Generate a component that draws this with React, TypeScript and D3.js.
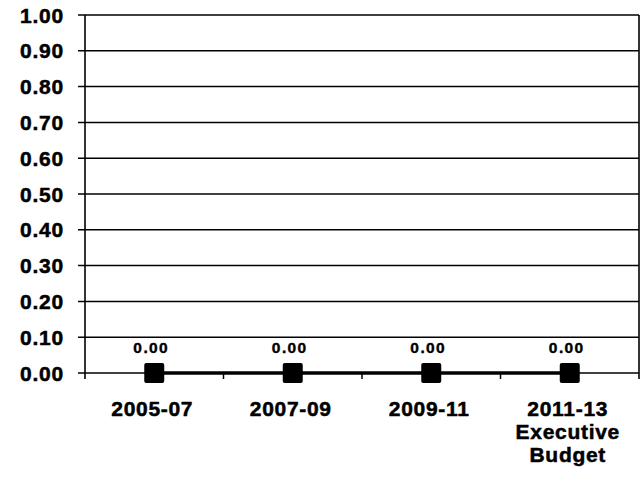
import React, { useRef, useEffect } from 'react'
import { select, scaleBand, scaleLinear, line } from 'd3'

const categories = [
    ['2005-07'],
    ['2007-09'],
    ['2009-11'],
    ['2011-13', 'Executive', 'Budget'],
]
const values = [0.0, 0.0, 0.0, 0.0]
const yTicks = [0, 0.1, 0.2, 0.3, 0.4, 0.5, 0.6, 0.7, 0.8, 0.9, 1.0]

const W = 644
const H = 481
const left = 85
const right = 639
const top = 15
const bottom = 373
const font = 'Arial, "Liberation Sans", Helvetica, sans-serif'

const App = () => {
    const ref = useRef<any>()

    useEffect(() => {
        const svg = select(ref.current)
        svg.selectAll('*').remove()

        const x = scaleBand()
            .domain(categories.map((c, i) => String(i)))
            .range([left, right])
        const y = scaleLinear().domain([0, 1]).range([bottom, top])
        const cx = (i: number) => x(String(i)) + x.bandwidth() / 2

        // gridlines + y ticks
        svg.selectAll('.grid')
            .data(yTicks)
            .join('line')
            .attr('class', 'grid')
            .attr('x1', left - 7)
            .attr('x2', right)
            .attr('y1', d => y(d))
            .attr('y2', d => y(d))
            .attr('stroke', '#000')
            .attr('stroke-width', 1.5)

        // y labels
        svg.selectAll('.ylab')
            .data(yTicks)
            .join('text')
            .attr('class', 'ylab')
            .attr('x', 64)
            .attr('y', d => y(d))
            .attr('dy', '0.36em')
            .attr('text-anchor', 'end')
            .attr('font-family', font)
            .attr('font-weight', 'bold')
            .attr('font-size', 21)
            .attr('letter-spacing', 0.8)
            .attr('stroke', '#000')
            .attr('stroke-width', 0.5)
            .text(d => d.toFixed(2))

        // axis frame
        svg.append('line')
            .attr('x1', left).attr('x2', left)
            .attr('y1', top).attr('y2', bottom + 6)
            .attr('stroke', '#000').attr('stroke-width', 1.6)
        svg.append('line')
            .attr('x1', right).attr('x2', right)
            .attr('y1', top).attr('y2', bottom + 6)
            .attr('stroke', '#000').attr('stroke-width', 1.6)

        // x category ticks
        svg.selectAll('.xtick')
            .data(categories.slice(1))
            .join('line')
            .attr('class', 'xtick')
            .attr('x1', (d, i) => x(String(i + 1)))
            .attr('x2', (d, i) => x(String(i + 1)))
            .attr('y1', bottom)
            .attr('y2', bottom + 6)
            .attr('stroke', '#000')
            .attr('stroke-width', 1.5)

        // series line
        const path = line<number>()
            .x((d, i) => cx(i))
            .y(d => y(d))
        svg.append('path')
            .attr('d', path(values))
            .attr('fill', 'none')
            .attr('stroke', '#000')
            .attr('stroke-width', 3.5)

        // markers
        svg.selectAll('.mark')
            .data(values)
            .join('rect')
            .attr('class', 'mark')
            .attr('x', (d, i) => cx(i) - 10)
            .attr('y', d => y(d) - 10)
            .attr('width', 20)
            .attr('height', 20)
            .attr('rx', 2)
            .attr('fill', '#000')

        // data labels
        svg.selectAll('.dlab')
            .data(values)
            .join('text')
            .attr('class', 'dlab')
            .attr('x', (d, i) => cx(i) - 3)
            .attr('y', d => y(d) - 20)
            .attr('text-anchor', 'middle')
            .attr('font-family', font)
            .attr('font-weight', 'bold')
            .attr('font-size', 15.5)
            .attr('letter-spacing', 1.4)
            .attr('stroke', '#000')
            .attr('stroke-width', 0.4)
            .text(d => d.toFixed(2))

        // x labels
        const xl = svg.selectAll('.xlab')
            .data(categories)
            .join('text')
            .attr('class', 'xlab')
            .attr('text-anchor', 'middle')
            .attr('font-family', font)
            .attr('font-weight', 'bold')
            .attr('font-size', 21)
            .attr('letter-spacing', 0.7)
            .attr('stroke', '#000')
            .attr('stroke-width', 0.5)
        xl.selectAll('tspan')
            .data((d, i) => d.map(t => ({ t, i })))
            .join('tspan')
            .attr('x', d => cx(d.i) - 2)
            .attr('y', (d, j) => 416 + j * 23)
            .text(d => d.t)
    }, [])

    return (
        <svg
            ref={ref}
            width={W}
            height={H}
            style={{ position: 'absolute', left: 0, top: 0, background: '#fff' }}
        />
    )
}

export default App
